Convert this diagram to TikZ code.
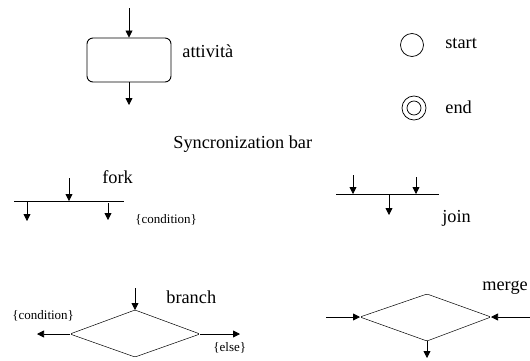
\documentclass[tikz,border=0pt]{standalone}
\usepackage{fontspec}
\setmainfont{Liberation Serif}
\usetikzlibrary{arrows.meta}
\begin{document}
\begin{tikzpicture}[x=1pt,y=-1pt,
  line width=0.75pt,
  flow/.style={-{Triangle[length=7pt,width=7pt]}},
  label/.style={anchor=base west,inner sep=0pt,font=\fontsize{18.3}{21}\selectfont},
  guard/.style={anchor=base west,inner sep=0pt,font=\fontsize{13}{15}\selectfont},
  activity/.style={draw,line width=0.9pt,rounded corners=6pt,minimum width=84pt,minimum height=44pt,inner sep=0pt},
  state/.style={draw,circle,inner sep=0pt}]
\useasboundingbox (0,0) rectangle (530,360);

% activity
\node[activity] (act) at (129,60) {};
\coordinate (actin) at (129,8);
\coordinate (actout) at (129,105);
\draw[flow] (actin) -- (act.north);
\draw[flow] (act.south) -- (actout);
\node[label] (actl) at (182,57) {attività};

% start and end states
\node[state,minimum size=23pt] (start) at (412,45) {};
\node[label] (startl) at (445,48) {start};
\node[state,minimum size=24pt] (endo) at (414,108) {};
\node[state,minimum size=14pt] (endi) at (414,108) {};
\node[label] (endl) at (445,113) {end};

\node[label] (sync) at (173,148) {Syncronization bar};

% fork
\coordinate (fl) at (14,201);
\coordinate (fr) at (124,201);
\draw (fl) -- (fr);
\coordinate (fin) at (69,178);
\coordinate (fintip) at (69,201);
\draw[flow] (fin) -- (fintip);
\coordinate (fo1) at (27,201);
\coordinate (fo1t) at (27,221);
\draw[flow] (fo1) -- (fo1t);
\coordinate (fo2) at (108,203);
\coordinate (fo2t) at (108,220);
\draw[flow] (fo2) -- (fo2t);
\node[label] (forkl) at (102,183) {fork};
\node[guard] (fcond) at (135,223) {\{condition\}};

% join
\coordinate (jl) at (336,194);
\coordinate (jr) at (439,194);
\draw (jl) -- (jr);
\coordinate (ji1) at (353,175);
\coordinate (ji1t) at (353,194);
\coordinate (ji2) at (416,177);
\coordinate (ji2t) at (416,194);
\draw[flow] (ji1) -- (ji1t);
\draw[flow] (ji2) -- (ji2t);
\coordinate (jo) at (389,194);
\coordinate (jot) at (389,215);
\draw[flow] (jo) -- (jot);
\node[label] (joinl) at (442,222) {join};

% branch
\coordinate (bt) at (135,310);
\coordinate (bl) at (70,334);
\coordinate (br) at (200,334);
\coordinate (bb) at (135,357);
\draw[line width=0.5pt,rounded corners=1.5pt] (bt) -- (br) -- (bb) -- (bl) -- cycle;
\coordinate (bin) at (135,288);
\draw[flow] (bin) -- (bt);
\coordinate (bleft) at (37,334);
\coordinate (bright) at (240,334);
\draw[flow] (bl) -- (bleft);
\draw[flow] (br) -- (bright);
\node[label] (branchl) at (166,303) {branch};
\node[guard] (bcond) at (12,319) {\{condition\}};
\node[guard] (belse) at (213,351) {\{else\}};

% merge
\coordinate (mt) at (427,294);
\coordinate (ml) at (360,317);
\coordinate (mr) at (491,317);
\coordinate (mb) at (427,341);
\draw[line width=0.5pt,rounded corners=1.5pt] (mt) -- (mr) -- (mb) -- (ml) -- cycle;
\coordinate (min1) at (326,317);
\coordinate (min2) at (530,317);
\coordinate (mout) at (427,358);
\draw[flow] (min1) -- (ml);
\draw[flow] (min2) -- (mr);
\draw[flow] (mb) -- (mout);
\node[label] (mergel) at (482,290) {merge};
\end{tikzpicture}
\end{document}
